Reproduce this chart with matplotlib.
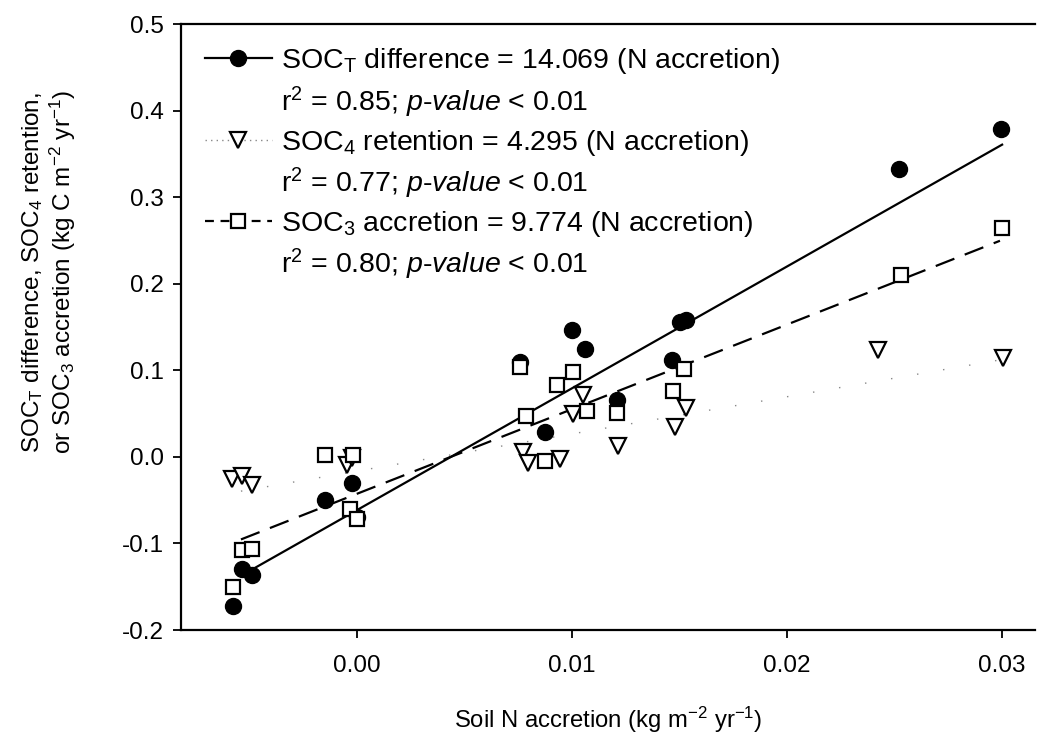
import matplotlib
matplotlib.use('Agg')
import matplotlib.pyplot as plt
from matplotlib.lines import Line2D
import numpy as np

plt.rcParams['font.family'] = ['Liberation Sans', 'DejaVu Sans']
plt.rcParams['mathtext.fontset'] = 'custom'
plt.rcParams['mathtext.rm'] = 'Liberation Sans'
plt.rcParams['mathtext.it'] = 'Liberation Sans:italic'
plt.rcParams['mathtext.bf'] = 'Liberation Sans:bold'
plt.rcParams['axes.unicode_minus'] = False

# SOC_T difference vs soil N accretion (filled circles)
soct_n = [-0.00577, -0.00535, -0.00488, -0.00149, -0.00023, 0.0, 0.00758, 0.00874,
          0.0100, 0.0106, 0.0121, 0.01465, 0.0150, 0.0153, 0.0252, 0.02995]
soct_c = [-0.172, -0.130, -0.136, -0.050, -0.030, -0.070, 0.110, 0.029,
          0.147, 0.125, 0.066, 0.112, 0.156, 0.158, 0.333, 0.379]

# SOC_4 retention (open triangles)
soc4_n = [-0.00581, -0.00535, -0.00488, -0.00047, -0.00023, 0.00772, 0.00795, 0.00944,
          0.01005, 0.01051, 0.01214, 0.01479, 0.01530, 0.02423, 0.03005]
soc4_c = [-0.025, -0.022, -0.032, -0.009, -0.001, 0.006, -0.007, -0.002,
          0.050, 0.072, 0.013, 0.034, 0.057, 0.124, 0.114]

# SOC_3 accretion (open squares)
soc3_n = [-0.00577, -0.00535, -0.00488, -0.00149, -0.00019, -0.00033, 0.0, 0.00758, 0.00786,
          0.00874, 0.0093, 0.01005, 0.0107, 0.01209, 0.0147, 0.01521, 0.0253, 0.0300]
soc3_c = [-0.150, -0.108, -0.106, 0.002, 0.002, -0.060, -0.072, 0.104, 0.047,
          -0.005, 0.083, 0.098, 0.053, 0.051, 0.076, 0.102, 0.210, 0.264]

# regression lines: slope, intercept, x range
soct_fit = (14.069, -0.0614, (-0.0049, 0.0300))
soc4_fit = (4.295, -0.0164, (-0.0054, 0.0299))
soc3_fit = (9.774, -0.0426, (-0.0054, 0.0299))

fig = plt.figure(figsize=(10.4, 7.44), dpi=100)
ax = fig.add_axes([0.174, 0.1532, 0.8212, 0.8145])


def fit_line(fit):
    slope, icpt, (x0, x1) = fit
    xs = np.array([x0, x1])
    return xs, icpt + slope * xs


xs, ys = fit_line(soct_fit)
ax.plot(xs, ys, color='black', lw=1.6, zorder=2)
xs, ys = fit_line(soc3_fit)
ax.plot(xs, ys, color='black', lw=1.6, ls=(0, (9, 5)), zorder=2)
xs, ys = fit_line(soc4_fit)
ax.plot(xs, ys, color='#888888', lw=1.0, ls=(0, (1, 18)), zorder=2)

ax.plot(soct_n, soct_c, 'o', ms=11.5, color='black', zorder=3)
ax.plot(soc4_n, soc4_c, 'v', ms=11, mfc='white', mec='black', mew=1.6, zorder=4)
ax.plot(soc3_n, soc3_c, 's', ms=10, mfc='white', mec='black', mew=1.6, zorder=5)

ax.set_xlim(-0.00819, 0.03153)
ax.set_ylim(-0.2, 0.5)
ax.set_xticks([0.0, 0.01, 0.02, 0.03])
ax.set_xticklabels(['0.00', '0.01', '0.02', '0.03'])
ax.set_yticks(np.arange(-0.2, 0.51, 0.1))
ax.set_yticklabels(['%.1f' % v for v in np.arange(-0.2, 0.51, 0.1)])
ax.tick_params(direction='out', length=6, width=1.3, labelsize=17.5, pad=6)
ax.tick_params(axis='x', pad=12)

ax.spines['right'].set_visible(False)
for s in ['left', 'top', 'bottom']:
    ax.spines[s].set_linewidth(1.6)

ax.set_xlabel('Soil N accretion (kg m$^{-2}$ yr$^{-1}$)', fontsize=17.2, labelpad=20)
ax.set_ylabel('SOC$_\\mathrm{T}$ difference, SOC$_\\mathrm{4}$ retention,\n'
              'or SOC$_\\mathrm{3}$ accretion (kg C m$^{-2}$ yr$^{-1}$)',
              fontsize=17.5, linespacing=1.15)
ax.yaxis.set_label_coords(-0.12, 0.59)

blank = Line2D([], [], ls='none')
handles = [
    Line2D([], [], color='black', lw=1.6, marker='o', ms=11.5),
    blank,
    Line2D([], [], color='#888888', lw=1.0, ls=(0, (1, 3)), marker='v', ms=11,
           mfc='white', mec='black', mew=1.6),
    blank,
    Line2D([], [], color='black', lw=1.6, ls=(0, (4, 3)), marker='s', ms=10,
           mfc='white', mec='black', mew=1.6),
    blank,
]
labels = [
    'SOC$_\\mathrm{T}$ difference = 14.069 (N accretion)',
    'r$^2$ = 0.85; $\\mathit{p}$-$\\mathit{value}$ < 0.01',
    'SOC$_\\mathrm{4}$ retention = 4.295 (N accretion)',
    'r$^2$ = 0.77; $\\mathit{p}$-$\\mathit{value}$ < 0.01',
    'SOC$_\\mathrm{3}$ accretion = 9.774 (N accretion)',
    'r$^2$ = 0.80; $\\mathit{p}$-$\\mathit{value}$ < 0.01',
]
ax.legend(handles, labels, loc='upper left', bbox_to_anchor=(0.028, 0.963),
          frameon=False, fontsize=20.5, handlelength=2.35, handletextpad=0.32,
          labelspacing=0.28, borderpad=0, borderaxespad=0)

fig.savefig('out.png', dpi=100)
